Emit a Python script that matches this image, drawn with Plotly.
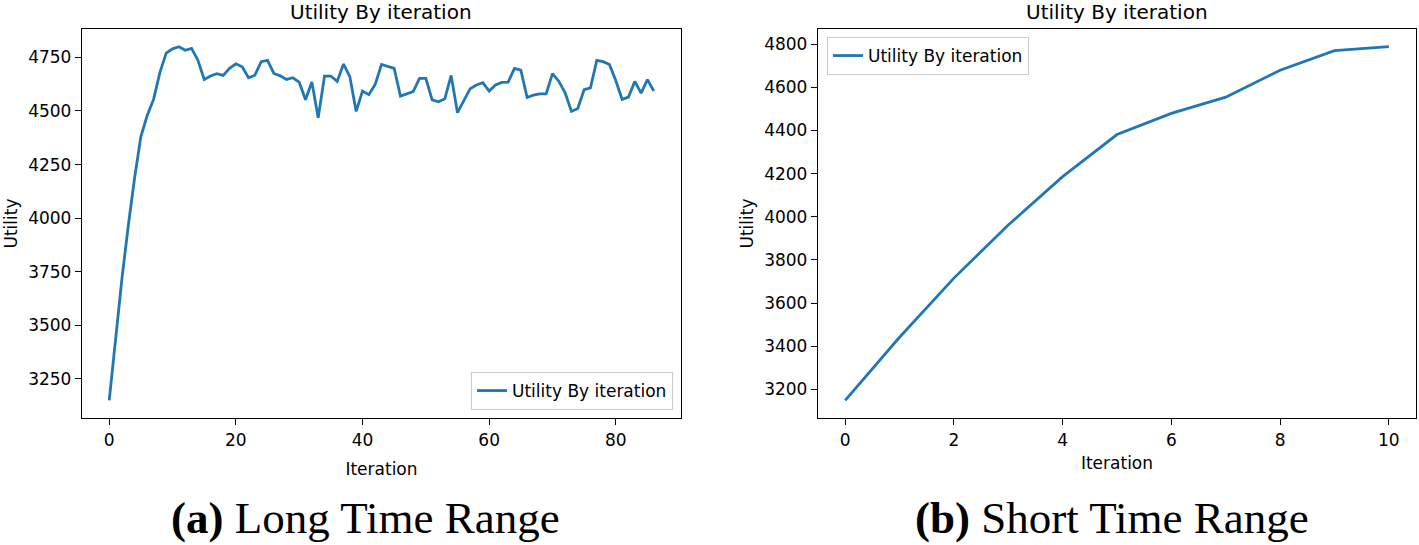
import plotly.graph_objects as go

# ---- data ----
iters_long = list(range(87))
utility_long = [
    3150, 3442, 3716, 3962, 4186, 4381, 4479, 4554, 4679, 4770,
    4790, 4800, 4783, 4792, 4737, 4647, 4663, 4674, 4666, 4699,
    4720, 4706, 4655, 4667, 4730, 4736, 4675, 4664, 4647, 4655,
    4635, 4552, 4635, 4468, 4663, 4663, 4638, 4719, 4660, 4498,
    4593, 4576, 4624, 4717, 4709, 4699, 4569, 4580, 4590, 4652,
    4652, 4552, 4543, 4557, 4666, 4492, 4549, 4604, 4621, 4632,
    4593, 4621, 4633, 4635, 4699, 4691, 4563, 4574, 4580, 4580,
    4674, 4639, 4585, 4498, 4512, 4600, 4608, 4736, 4730, 4717,
    4642, 4554, 4565, 4638, 4583, 4646, 4593,
]
iters_short = list(range(11))
utility_short = [3150, 3442, 3716, 3962, 4186, 4381, 4479, 4554, 4679, 4770, 4788]

long_xticks = [0, 20, 40, 60, 80]
long_yticks = [3250, 3500, 3750, 4000, 4250, 4500, 4750]
short_xticks = [0, 2, 4, 6, 8, 10]
short_yticks = [3200, 3400, 3600, 3800, 4000, 4200, 4400, 4600, 4800]

series_name = "Utility By iteration"
x_title = "Iteration"
y_title = "Utility"
captions = ["<b>(a)</b> Long Time Range", "<b>(b)</b> Short Time Range"]

W, H = 1419, 545
LINE = "#1f77b4"
TICKFONT = dict(family="DejaVu Sans", size=17, color="black")

fig = go.Figure()
fig.add_trace(go.Scatter(x=iters_long, y=utility_long, mode="lines", name=series_name,
                         line=dict(color=LINE, width=2.8), xaxis="x", yaxis="y", legend="legend"))
fig.add_trace(go.Scatter(x=iters_short, y=utility_short, mode="lines", name=series_name,
                         line=dict(color=LINE, width=2.8), xaxis="x2", yaxis="y2", legend="legend2"))

def px_x(p):
    return p / W

def px_y(p):
    return 1 - p / H

axis_common = dict(showline=True, linecolor="black", linewidth=1.3, mirror=True,
                   ticks="outside", ticklen=6, tickwidth=1.2, tickcolor="black",
                   showgrid=False, zeroline=False, tickfont=TICKFONT, automargin=False)

def span(vals, frac=0.05):
    lo, hi = min(vals), max(vals)
    m = (hi - lo) * frac
    return [lo - m, hi + m]

fig.update_layout(
    width=W, height=H,
    margin=dict(l=0, r=0, t=0, b=0),
    paper_bgcolor="white", plot_bgcolor="white",
    xaxis=dict(domain=[px_x(82), px_x(681)], anchor="y", range=span(iters_long),
               tickvals=long_xticks,
               title=dict(text=x_title, font=TICKFONT, standoff=14), **axis_common),
    yaxis=dict(domain=[px_y(418), px_y(29)], anchor="x", range=span(utility_long),
               tickvals=long_yticks,
               title=dict(text=y_title, font=TICKFONT, standoff=6), **axis_common),
    xaxis2=dict(domain=[px_x(818), px_x(1416)], anchor="y2", range=span(iters_short),
                tickvals=short_xticks,
                title=dict(text=x_title, font=TICKFONT, standoff=8), **axis_common),
    yaxis2=dict(domain=[px_y(418), px_y(29)], anchor="x2", range=span(utility_short),
                tickvals=short_yticks,
                title=dict(text=y_title, font=TICKFONT, standoff=6), **axis_common),
    legend=dict(x=px_x(673), y=px_y(410), xanchor="right", yanchor="bottom",
                bgcolor="rgba(255,255,255,0.8)", bordercolor="#cccccc", borderwidth=1,
                font=TICKFONT),
    legend2=dict(x=px_x(827), y=px_y(37), xanchor="left", yanchor="top",
                 bgcolor="rgba(255,255,255,0.8)", bordercolor="#cccccc", borderwidth=1,
                 font=TICKFONT),
    showlegend=True,
)

titles = [((82 + 681) / 2, "Utility By iteration"), ((818 + 1416) / 2, "Utility By iteration")]
for cx, t in titles:
    fig.add_annotation(x=px_x(cx), y=px_y(12), xref="paper", yref="paper", text=t,
                       showarrow=False, xanchor="center", yanchor="middle",
                       font=dict(family="DejaVu Sans", size=20, color="black"))

for cx, t in zip([365, 1112], captions):
    fig.add_annotation(x=px_x(cx), y=px_y(518), xref="paper", yref="paper", text=t,
                       showarrow=False, xanchor="center", yanchor="middle",
                       font=dict(family="Liberation Serif", size=45, color="black"))

fig.write_html("out.html", config={"displayModeBar": False},
               post_script="document.body.style.margin='0';document.body.style.overflow='hidden';")
